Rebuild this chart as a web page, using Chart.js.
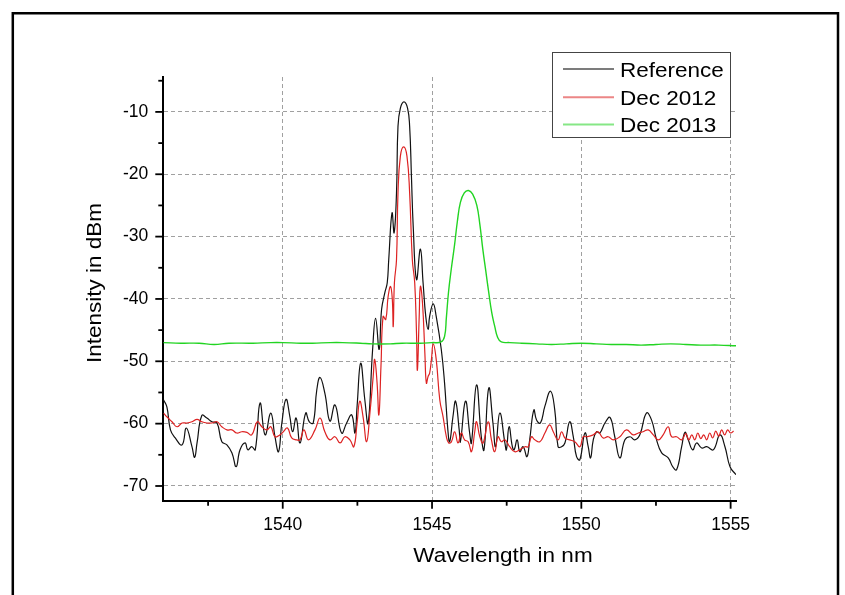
<!DOCTYPE html>
<html>
<head>
<meta charset="utf-8">
<script src="https://cdn.jsdelivr.net/npm/chart.js@4.4.0/dist/chart.umd.min.js"></script>
<style>
  body { margin: 0; background: #fff; }
  canvas { display: block; }
</style>
</head>
<body>
<canvas id="myChart" width="845" height="595"></canvas>
<script>
// wavelength (nm) and intensity (dBm)
const refWl = [1536.01,1536.12,1536.24,1536.40,1536.63,1536.77,1536.96,1537.05,1537.13,1537.29,1537.46,1537.63,1537.80,1537.96,1538.13,1538.30,1538.44,1538.57,1538.74,1538.83,1538.96,1539.08,1539.24,1539.41,1539.60,1539.74,1539.86,1539.97,1540.11,1540.24,1540.33,1540.45,1540.58,1540.77,1540.89,1541.02,1541.14,1541.25,1541.41,1541.58,1541.75,1541.97,1542.14,1542.31,1542.42,1542.49,1542.61,1542.75,1542.86,1543.01,1543.11,1543.23,1543.31,1543.42,1543.50,1543.55,1543.66,1543.73,1543.81,1543.86,1543.94,1544.06,1544.18,1544.25,1544.31,1544.37,1544.48,1544.61,1544.70,1544.79,1544.87,1544.92,1545.04,1545.14,1545.31,1545.42,1545.53,1545.59,1545.70,1545.79,1545.91,1545.95,1546.12,1546.26,1546.32,1546.49,1546.65,1546.74,1546.90,1547.04,1547.13,1547.27,1547.44,1547.49,1547.58,1547.69,1547.75,1547.85,1547.94,1548.05,1548.18,1548.27,1548.41,1548.50,1548.63,1548.78,1548.97,1549.11,1549.22,1549.34,1549.45,1549.61,1549.73,1549.84,1549.95,1550.12,1550.23,1550.31,1550.40,1550.51,1550.62,1550.79,1550.96,1551.12,1551.29,1551.46,1551.63,1551.79,1551.96,1552.18,1552.35,1552.52,1552.69,1552.91,1553.06,1553.19,1553.36,1553.47,1553.58,1553.73,1553.86,1554.03,1554.20,1554.42,1554.64,1554.81,1554.98,1555.18];
const refDbm = [-56.2,-57.3,-61.0,-62.3,-63.4,-60.7,-63.7,-65.4,-63.1,-58.7,-59.1,-59.7,-59.9,-62.9,-63.4,-64.7,-66.9,-64.2,-63.1,-64.2,-63.7,-64.2,-56.7,-61.8,-58.3,-62.1,-64.5,-59.9,-56.1,-58.9,-61.3,-59.1,-63.1,-58.3,-59.7,-59.9,-54.6,-52.6,-55.1,-59.6,-57.0,-61.5,-59.9,-58.6,-61.5,-57.2,-50.3,-56.2,-59.9,-48.1,-43.1,-48.1,-41.7,-39.0,-37.4,-33.7,-26.2,-29.4,-23.0,-12.3,-9.4,-8.4,-9.4,-12.3,-20.3,-28.4,-36.9,-32.0,-37.4,-42.8,-44.9,-42.8,-40.8,-42.8,-48.1,-53.5,-61.0,-62.9,-58.9,-56.4,-61.0,-62.9,-56.4,-61.5,-63.1,-53.8,-62.1,-64.2,-54.3,-59.9,-63.7,-58.3,-63.1,-64.2,-60.5,-63.7,-64.2,-62.6,-64.5,-63.7,-65.3,-62.6,-57.8,-59.4,-59.9,-57.2,-54.8,-57.8,-63.7,-63.7,-63.1,-59.7,-62.1,-65.3,-65.8,-61.5,-63.7,-65.5,-62.6,-61.3,-61.5,-59.9,-59.0,-62.1,-65.5,-62.6,-62.1,-62.6,-61.8,-58.3,-59.4,-62.6,-64.7,-65.5,-66.9,-67.4,-63.7,-61.4,-62.6,-64.2,-63.1,-63.9,-63.7,-64.2,-61.8,-63.7,-66.9,-68.2];

const dec12Wl = [1536.01,1536.12,1536.29,1536.46,1536.63,1536.79,1536.96,1537.13,1537.29,1537.46,1537.63,1537.80,1537.96,1538.13,1538.30,1538.46,1538.63,1538.80,1538.96,1539.15,1539.30,1539.47,1539.60,1539.74,1539.91,1540.02,1540.16,1540.30,1540.47,1540.58,1540.71,1540.86,1541.08,1541.25,1541.41,1541.58,1541.75,1541.92,1542.08,1542.25,1542.38,1542.49,1542.58,1542.69,1542.81,1542.92,1543.03,1543.08,1543.16,1543.22,1543.29,1543.36,1543.45,1543.53,1543.61,1543.67,1543.70,1543.74,1543.81,1543.86,1543.94,1544.05,1544.16,1544.25,1544.34,1544.42,1544.48,1544.51,1544.57,1544.61,1544.68,1544.76,1544.81,1544.87,1544.92,1544.98,1545.04,1545.14,1545.26,1545.37,1545.48,1545.56,1545.65,1545.76,1545.87,1545.98,1546.09,1546.21,1546.32,1546.43,1546.49,1546.60,1546.71,1546.88,1546.99,1547.10,1547.21,1547.32,1547.44,1547.60,1547.77,1547.94,1548.11,1548.22,1548.33,1548.44,1548.61,1548.78,1548.94,1549.06,1549.22,1549.34,1549.45,1549.61,1549.78,1549.95,1550.06,1550.17,1550.40,1550.56,1550.73,1550.90,1551.07,1551.29,1551.51,1551.74,1551.91,1552.07,1552.24,1552.41,1552.58,1552.74,1552.91,1553.02,1553.19,1553.36,1553.50,1553.60,1553.70,1553.80,1553.90,1554.00,1554.10,1554.20,1554.30,1554.40,1554.50,1554.60,1554.70,1554.80,1554.90,1555.00,1555.10,1555.18];
const dec12Dbm = [-58.3,-58.9,-59.7,-60.5,-59.9,-59.9,-59.7,-59.3,-59.7,-59.9,-59.9,-59.7,-60.5,-61.0,-61.0,-61.5,-61.3,-61.4,-61.8,-59.7,-60.5,-61.0,-60.5,-62.1,-61.8,-61.3,-60.7,-62.3,-62.6,-62.6,-61.0,-62.6,-61.0,-59.1,-61.3,-62.6,-62.1,-63.1,-62.1,-62.6,-63.7,-59.9,-56.4,-58.9,-62.9,-58.3,-52.4,-49.7,-53.5,-58.6,-50.8,-42.8,-43.3,-39.6,-38.0,-40.1,-44.4,-37.4,-33.7,-23.0,-17.1,-15.6,-17.1,-23.0,-33.7,-37.4,-45.5,-51.4,-42.8,-38.0,-40.6,-48.7,-53.5,-52.4,-51.9,-49.7,-47.2,-49.7,-56.2,-58.9,-62.1,-63.1,-62.9,-61.3,-63.1,-61.5,-62.6,-62.9,-64.5,-61.3,-59.7,-62.1,-63.1,-59.7,-62.6,-64.5,-62.1,-62.9,-62.6,-63.7,-64.5,-64.2,-63.7,-63.7,-62.1,-62.6,-62.9,-61.5,-60.2,-61.3,-62.6,-61.3,-62.3,-62.6,-62.9,-63.7,-62.1,-62.1,-61.8,-61.3,-62.3,-62.1,-62.6,-62.1,-61.0,-61.8,-61.5,-61.3,-61.0,-61.8,-62.6,-61.8,-60.5,-62.1,-62.1,-62.6,-61.6,-62.6,-61.8,-62.6,-61.5,-62.4,-61.8,-62.6,-61.5,-62.3,-61.2,-62.0,-61.0,-61.8,-61.0,-61.5,-61.2];

const dec13Wl = [1536.0,1536.6,1537.2,1537.7,1538.2,1539.0,1539.6,1540.0,1540.6,1541.0,1541.6,1542.0,1542.6,1543.0,1543.6,1544.0,1544.6,1545.0,1545.3,1545.42,1545.48,1545.55,1545.65,1545.75,1545.85,1545.95,1546.08,1546.22,1546.36,1546.5,1546.6,1546.7,1546.8,1546.9,1547.0,1547.1,1547.2,1547.32,1547.6,1548.0,1548.5,1549.0,1549.5,1550.0,1550.5,1551.0,1551.5,1552.0,1552.5,1553.0,1553.5,1554.0,1554.6,1555.18];
const dec13Dbm = [-47.0,-47.1,-47.1,-47.3,-47.1,-47.1,-47.0,-47.0,-47.1,-47.1,-47.0,-47.0,-47.1,-47.2,-47.2,-47.1,-47.1,-47.0,-46.9,-46.0,-43.0,-39.0,-35.0,-31.5,-27.5,-24.5,-23.0,-22.6,-23.2,-25.0,-28.0,-32.0,-35.5,-39.0,-42.2,-44.4,-46.2,-46.9,-47.0,-47.1,-47.2,-47.3,-47.2,-47.1,-47.2,-47.3,-47.3,-47.4,-47.3,-47.2,-47.3,-47.4,-47.4,-47.5];

const seriesNames = ['Reference', 'Dec 2012', 'Dec 2013'];
const seriesColors = ['#111111', '#dd2222', '#22d422'];

const xTickValues = [1537.5, 1540, 1542.5, 1545, 1547.5, 1550, 1552.5, 1555];
const yTickValues = [-70, -65, -60, -55, -50, -45, -40, -35, -30, -25, -20, -15, -10, -5];
const xTitle = 'Wavelength in nm';
const yTitle = 'Intensity in dBm';

const toPoints = (xs, ys) => xs.map((x, i) => ({ x: x, y: ys[i] }));
const isMajorX = v => Math.abs(v % 5) < 1e-6;
const isMajorY = v => Math.abs(v % 10) < 1e-6;

const textFont = '20px "Liberation Sans", Arial, sans-serif';

// frame, axis titles, tick marks and legend
const decorPlugin = {
    id: 'decor',
    afterDraw(chart) {
        const ctx = chart.ctx;
        const xs = chart.scales.x, ys = chart.scales.y;
        const area = chart.chartArea;
        ctx.save();

        // outer frame (open at the bottom)
        ctx.strokeStyle = '#000';
        ctx.lineWidth = 2.5;
        ctx.beginPath();
        ctx.moveTo(12.8, 595);
        ctx.lineTo(12.8, 13.3);
        ctx.lineTo(838, 13.3);
        ctx.lineTo(838, 595);
        ctx.stroke();

        // tick marks
        ctx.lineWidth = 1.8;
        xTickValues.forEach(v => {
            const px = xs.getPixelForValue(v);
            const len = isMajorX(v) ? 8 : 5;
            ctx.beginPath();
            ctx.moveTo(px, area.bottom);
            ctx.lineTo(px, area.bottom + len);
            ctx.stroke();
        });
        yTickValues.forEach(v => {
            const py = ys.getPixelForValue(v);
            const len = isMajorY(v) ? 8 : 5;
            ctx.beginPath();
            ctx.moveTo(area.left, py);
            ctx.lineTo(area.left - len, py);
            ctx.stroke();
        });

        // axis titles
        ctx.fillStyle = '#000';
        ctx.font = textFont;
        ctx.textAlign = 'center';
        ctx.textBaseline = 'alphabetic';
        ctx.save();
        ctx.translate(503, 561.7);
        ctx.scale(1.125, 1);
        ctx.fillText(xTitle, 0, 0);
        ctx.restore();
        ctx.save();
        ctx.translate(100.7, 283);
        ctx.rotate(-Math.PI / 2);
        ctx.scale(1.125, 1);
        ctx.fillText(yTitle, 0, 0);
        ctx.restore();

        // legend
        ctx.fillStyle = '#fff';
        ctx.fillRect(552.5, 52.5, 178, 85);
        ctx.strokeStyle = '#444';
        ctx.lineWidth = 1;
        ctx.strokeRect(552.5, 52.5, 178, 85);
        const rowY = [69, 97.3, 124.5];
        chart.data.datasets.forEach((ds, i) => {
            ctx.save();
            ctx.globalAlpha = 0.55;
            ctx.strokeStyle = ds.borderColor;
            ctx.lineWidth = 2;
            ctx.beginPath();
            ctx.moveTo(563, rowY[i]);
            ctx.lineTo(614, rowY[i]);
            ctx.stroke();
            ctx.restore();
            ctx.save();
            ctx.fillStyle = '#000';
            ctx.textAlign = 'left';
            ctx.translate(620, rowY[i] + 7.5);
            ctx.scale(1.125, 1);
            ctx.fillText(ds.label, 0, 0);
            ctx.restore();
        });

        ctx.restore();
    }
};

const tickFont = { family: '"Liberation Sans", Arial, sans-serif', size: 17.5 };

const lineStyle = { pointRadius: 0, fill: false, tension: 0.45, cubicInterpolationMode: 'default' };

const config = {
    type: 'line',
    data: {
        datasets: [
            Object.assign({ label: seriesNames[0], data: toPoints(refWl, refDbm), borderColor: seriesColors[0], borderWidth: 1.2, order: 2 }, lineStyle),
            Object.assign({ label: seriesNames[1], data: toPoints(dec12Wl, dec12Dbm), borderColor: seriesColors[1], borderWidth: 1.2, order: 1 }, lineStyle),
            Object.assign({ label: seriesNames[2], data: toPoints(dec13Wl, dec13Dbm), borderColor: seriesColors[2], borderWidth: 1.4, order: 0 }, lineStyle)
        ]
    },
    options: {
        responsive: false,
        animation: false,
        layout: { padding: { left: 0, top: 77, right: 109, bottom: 0 } },
        plugins: { legend: { display: false }, tooltip: { enabled: false }, title: { display: false } },
        scales: {
            x: {
                type: 'linear',
                min: 1536.0,
                max: 1555.18,
                afterFit: s => { s.height = 94.3; },
                afterBuildTicks: s => { s.ticks = xTickValues.map(v => ({ value: v })); },
                ticks: {
                    callback: v => isMajorX(v) ? String(v) : '',
                    font: tickFont, color: '#000', padding: 14,
                    autoSkip: false, maxRotation: 0
                },
                grid: {
                    drawTicks: false,
                    color: c => (c.tick && isMajorX(c.tick.value)) ? '#a0a0a0' : 'rgba(0,0,0,0)',
                    lineWidth: 1
                },
                border: { display: true, color: '#000', width: 2, dash: [4, 3] }
            },
            y: {
                min: -72.36,
                max: -4.4,
                afterFit: s => { s.width = 163.3; },
                afterBuildTicks: s => { s.ticks = yTickValues.map(v => ({ value: v })); },
                ticks: {
                    callback: v => isMajorY(v) ? String(v) : '',
                    font: tickFont, color: '#000', padding: 15,
                    autoSkip: false
                },
                grid: {
                    drawTicks: false,
                    color: c => (c.tick && isMajorY(c.tick.value)) ? '#a0a0a0' : 'rgba(0,0,0,0)',
                    lineWidth: 1
                },
                border: { display: true, color: '#000', width: 2, dash: [4, 3] }
            }
        }
    },
    plugins: [decorPlugin]
};

const myChart = new Chart(document.getElementById('myChart'), config);
</script>
</body>
</html>
